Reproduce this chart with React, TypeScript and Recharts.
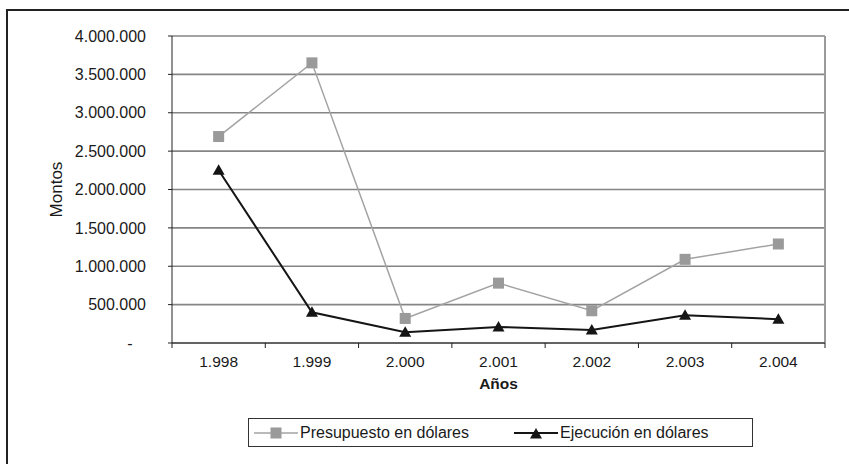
import React from 'react';
import { LineChart, Line, XAxis, YAxis, CartesianGrid, ReferenceLine, Label } from 'recharts';

const years = ['1.998', '1.999', '2.000', '2.001', '2.002', '2.003', '2.004'];
const presupuesto = [2690000, 3650000, 320000, 780000, 420000, 1090000, 1290000];
const ejecucion = [2250000, 400000, 140000, 210000, 170000, 360000, 310000];
const yTicks = [0, 500000, 1000000, 1500000, 2000000, 2500000, 3000000, 3500000, 4000000];

const seriesDefs = [
  { key: 'presupuesto', name: 'Presupuesto en dólares', stroke: '#a3a3a3', fill: '#9a9a9a', width: 1.5, shape: 'square' },
  { key: 'ejecucion', name: 'Ejecución en dólares', stroke: '#151515', fill: '#151515', width: 2, shape: 'triangle' },
];

const data = years.map((y, i) => ({ pos: i + 0.5, year: y, presupuesto: presupuesto[i], ejecucion: ejecucion[i] }));
const xTicks: number[] = [];
for (let i = 0; i <= years.length; i++) {
  xTicks.push(i);
  if (i < years.length) xTicks.push(i + 0.5);
}

const FONT = '"Liberation Sans", Arial, sans-serif';

const fmt = (v: number) => {
  if (v === 0) return '-\u00a0\u00a0\u00a0';
  return String(v).replace(/\B(?=(\d{3})+(?!\d))/g, '.');
};

const Marker = ({ shape, cx, cy, fill }: any) => {
  if (shape === 'square') {
    return <rect x={cx - 5.5} y={cy - 5.5} width={11} height={11} fill={fill} />;
  }
  return <polygon points={`${cx},${cy - 6} ${cx + 6},${cy + 4.5} ${cx - 6},${cy + 4.5}`} fill={fill} />;
};

const XTick = (props: any) => {
  const { x, y, payload } = props;
  const v = payload.value;
  if (Number.isInteger(v)) {
    return <line x1={x} x2={x} y1={y} y2={y + 5} stroke="#222" strokeWidth={1} />;
  }
  return (
    <text x={x} y={y + 24} textAnchor="middle" fontSize={15.5} fill="#1a1a1a" fontFamily={FONT}>
      {years[Math.floor(v)]}
    </text>
  );
};

const LegendBox = () => (
  <div
    style={{
      position: 'absolute',
      left: 248,
      top: 418,
      width: 498,
      height: 27,
      border: '1px solid #333',
      display: 'flex',
      alignItems: 'center',
      fontFamily: FONT,
      fontSize: 16,
      color: '#1a1a1a',
      paddingLeft: 5,
      boxSizing: 'content-box',
    }}
  >
    {seriesDefs.map((s, i) => (
      <div key={s.key} style={{ display: 'flex', alignItems: 'center', marginRight: i === 0 ? 45 : 0 }}>
        <svg width={44} height={14} style={{ display: 'block', marginRight: 2 }}>
          <line x1={0} x2={44} y1={7} y2={7} stroke={s.stroke} strokeWidth={s.width} />
          <Marker shape={s.shape} cx={22} cy={s.shape === 'square' ? 7 : 8} fill={s.fill} />
        </svg>
        <span style={{ whiteSpace: 'nowrap' }}>{s.name}</span>
      </div>
    ))}
  </div>
);

export default function App() {
  return (
    <div style={{ position: 'absolute', left: 0, top: 0, width: 849, height: 464, overflow: 'hidden', background: '#fff' }}>
      <div
        style={{
          position: 'absolute',
          left: 6,
          top: 9,
          width: 1000,
          height: 1000,
          borderTop: '2px solid #222',
          borderLeft: '2px solid #222',
        }}
      />
      <div style={{ position: 'absolute', left: 0, top: 0 }}>
        <LineChart width={849} height={464} data={data} margin={{ top: 36, right: 24, bottom: 61, left: 40 }}>
          <CartesianGrid vertical={false} stroke="#858585" strokeWidth={1.6} />
          <XAxis
            dataKey="pos"
            type="number"
            domain={[0, years.length]}
            ticks={xTicks}
            interval={0}
            tickSize={0}
            tickMargin={0}
            tickLine={false}
            tick={<XTick />}
            axisLine={{ stroke: '#222', strokeWidth: 1 }}
            height={60}
          >
            <Label
              content={(p: any) => {
                const vb = p.viewBox;
                return (
                  <text x={vb.x + vb.width / 2} y={vb.y + 46} textAnchor="middle" fontSize={15.5} fontWeight="bold" fill="#1a1a1a" fontFamily={FONT}>
                    Años
                  </text>
                );
              }}
            />
          </XAxis>
          <YAxis
            type="number"
            domain={[0, 4000000]}
            ticks={yTicks}
            tickFormatter={fmt}
            width={132}
            tickSize={4}
            tickMargin={22}
            tickLine={{ stroke: '#222' }}
            axisLine={{ stroke: '#222', strokeWidth: 1 }}
            tick={{ fontSize: 16, fill: '#1a1a1a', fontFamily: FONT }}
            interval={0}
          >
            <Label
              content={(p: any) => {
                const vb = p.viewBox;
                const cx = vb.x + 16;
                const cy = vb.y + vb.height / 2;
                return (
                  <text x={cx} y={cy} textAnchor="middle" dominantBaseline="central" transform={`rotate(-90 ${cx} ${cy})`} fontSize={17} fill="#1a1a1a" fontFamily={FONT}>
                    Montos
                  </text>
                );
              }}
            />
          </YAxis>
          <ReferenceLine x={years.length} stroke="#9a9a9a" strokeWidth={2} />
          {seriesDefs.map((s) => (
            <Line
              key={s.key}
              dataKey={s.key}
              name={s.name}
              stroke={s.stroke}
              strokeWidth={s.width}
              isAnimationActive={false}
              dot={(p: any) => <Marker key={`${s.key}-${p.index}`} shape={s.shape} cx={p.cx} cy={p.cy} fill={s.fill} />}
              activeDot={false}
            />
          ))}
        </LineChart>
      </div>
      <LegendBox />
    </div>
  );
}
